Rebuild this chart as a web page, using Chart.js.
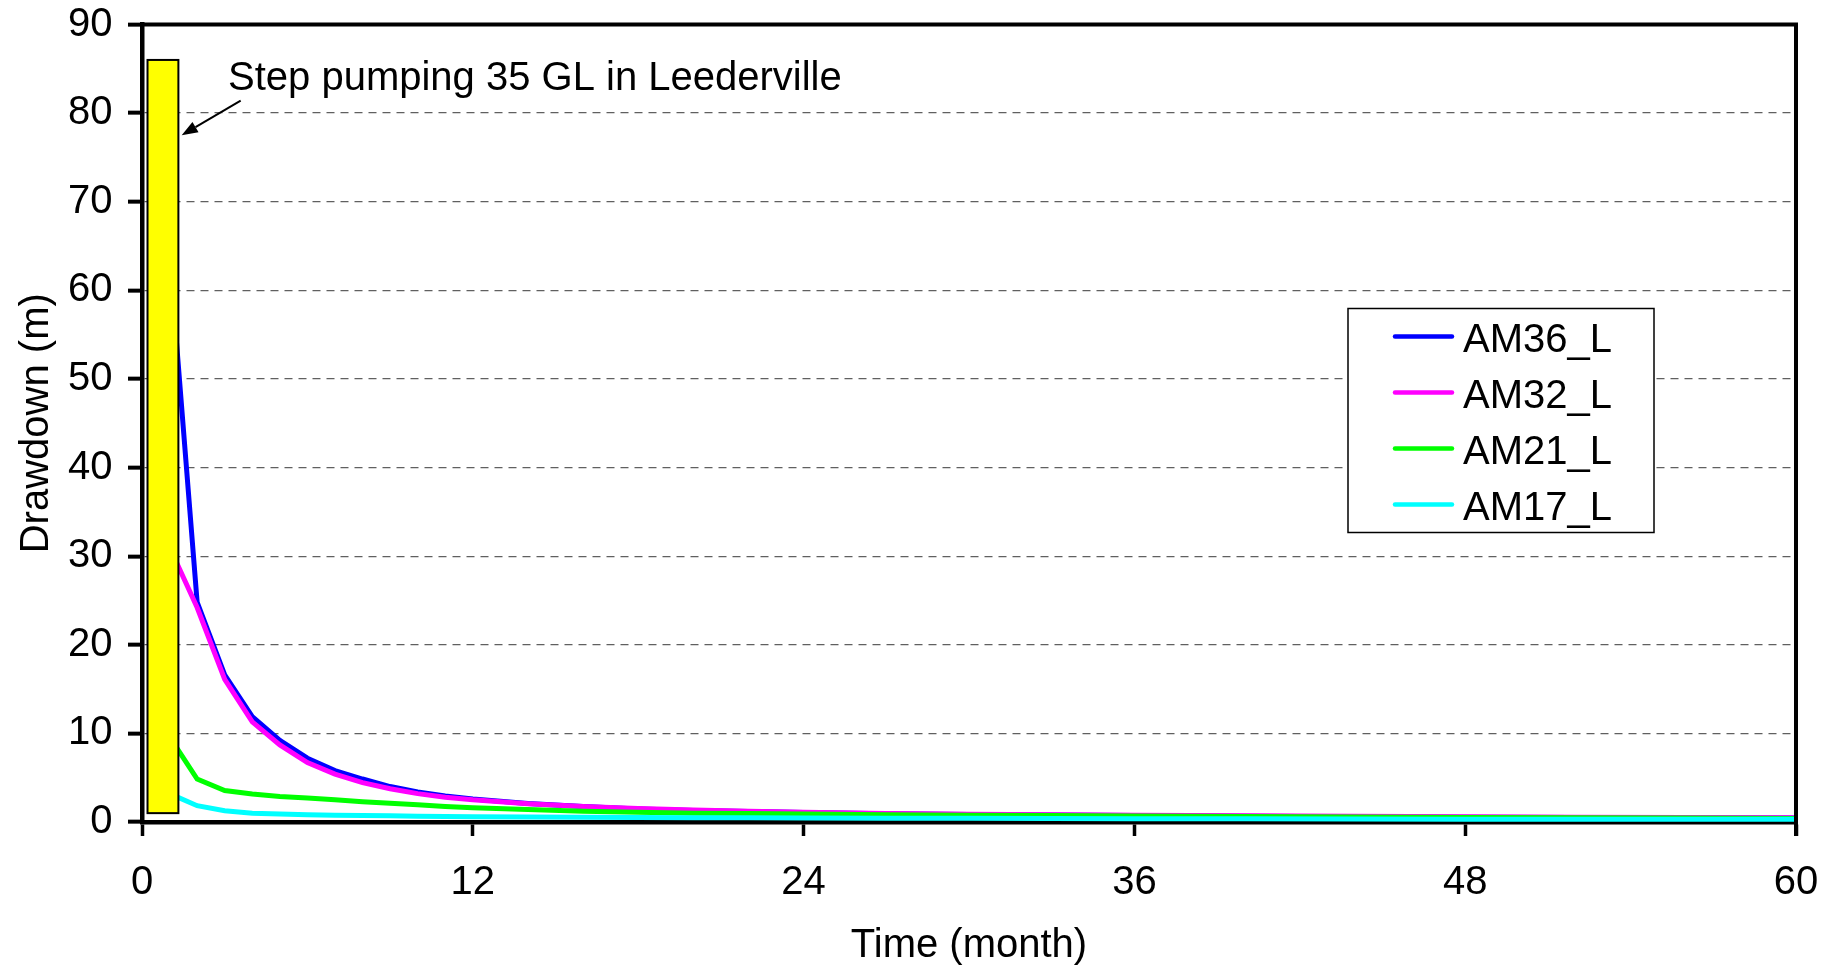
<!DOCTYPE html>
<html>
<head>
<meta charset="utf-8">
<title>Drawdown</title>
<script src="https://cdn.jsdelivr.net/npm/chart.js@4.4.0/dist/chart.umd.min.js"></script>
<style>
  html, body { margin: 0; padding: 0; background: #fff; }
  #wrap { width: 1834px; height: 968px; position: relative; }
</style>
</head>
<body>
<div id="wrap"><canvas id="drawdown"></canvas></div>
<script>
// time after start of pumping (months)
const months = [1, 2, 3, 4, 5, 6, 7, 8, 9, 10, 11, 12, 14, 16, 18, 20, 22, 24, 27, 30, 33, 36, 40, 44, 48, 52, 56, 60];

// drawdown (m) at each observation bore
const am36 = [64, 24.8, 16.6, 11.9, 9.2, 7.2, 5.8, 4.85, 4.0, 3.4, 2.95, 2.6, 2.1, 1.74, 1.48, 1.31, 1.18, 1.06, 0.93, 0.84, 0.78, 0.72, 0.66, 0.6, 0.55, 0.51, 0.47, 0.44];
const am32 = [31, 24.2, 16.1, 11.3, 8.7, 6.7, 5.4, 4.45, 3.75, 3.2, 2.8, 2.5, 2.06, 1.76, 1.52, 1.36, 1.22, 1.1, 0.97, 0.88, 0.82, 0.76, 0.7, 0.64, 0.59, 0.55, 0.51, 0.48];
const am21 = [9.6, 4.85, 3.56, 3.15, 2.88, 2.7, 2.5, 2.28, 2.12, 1.95, 1.75, 1.6, 1.4, 1.22, 1.1, 1.0, 0.95, 0.9, 0.82, 0.76, 0.72, 0.68, 0.62, 0.57, 0.52, 0.48, 0.44, 0.4];
const am17 = [3.2, 1.84, 1.27, 1.0, 0.9, 0.82, 0.77, 0.73, 0.7, 0.66, 0.63, 0.6, 0.57, 0.54, 0.5, 0.48, 0.47, 0.45, 0.43, 0.42, 0.4, 0.38, 0.36, 0.34, 0.32, 0.31, 0.3, 0.3];

const seriesNames = ['AM36_L', 'AM32_L', 'AM21_L', 'AM17_L'];
const timeTicks = [0, 12, 24, 36, 48, 60];
const drawdownTicks = [0, 10, 20, 30, 40, 50, 60, 70, 80, 90];

// pumping period and its label, in axis units
const pumping = { start: 0.2, end: 1.32, low: 1.0, high: 86 };
const pumpingNote = { text: 'Step pumping 35 GL in Leederville', x: 3.12, y: 82.6, arrowFrom: [3.58, 81.4], arrowTo: [1.44, 77.5] };

const FONT = '"Liberation Sans", Arial, sans-serif';
Chart.defaults.font.family = FONT;
Chart.defaults.color = '#000';

const toPoints = vals => vals.map((v, i) => ({ x: months[i], y: v }));

const pumpingBox = {
  id: 'pumpingBox',
  afterDatasetsDraw(chart) {
    const { ctx, scales: { x, y }, chartArea } = chart;
    const l = x.getPixelForValue(pumping.start), r = x.getPixelForValue(pumping.end);
    const t = y.getPixelForValue(pumping.high), b = y.getPixelForValue(pumping.low);
    ctx.save();
    ctx.fillStyle = '#ffff00';
    ctx.fillRect(l, t, r - l, b - t);
    ctx.strokeStyle = '#000';
    ctx.lineWidth = 2;
    ctx.strokeRect(l, t, r - l, b - t);

    // arrow to the bar
    const x0 = x.getPixelForValue(pumpingNote.arrowFrom[0]), y0 = y.getPixelForValue(pumpingNote.arrowFrom[1]);
    const x1 = x.getPixelForValue(pumpingNote.arrowTo[0]), y1 = y.getPixelForValue(pumpingNote.arrowTo[1]);
    const ang = Math.atan2(y1 - y0, x1 - x0);
    const head = 16, half = 6;
    const bx = x1 - head * Math.cos(ang), by = y1 - head * Math.sin(ang);
    ctx.lineWidth = 2;
    ctx.beginPath();
    ctx.moveTo(x0, y0);
    ctx.lineTo(bx, by);
    ctx.stroke();
    ctx.fillStyle = '#000';
    ctx.beginPath();
    ctx.moveTo(x1, y1);
    ctx.lineTo(bx + half * Math.sin(ang), by - half * Math.cos(ang));
    ctx.lineTo(bx - half * Math.sin(ang), by + half * Math.cos(ang));
    ctx.closePath();
    ctx.fill();

    ctx.font = '40px ' + FONT;
    ctx.textBaseline = 'alphabetic';
    ctx.fillText(pumpingNote.text, x.getPixelForValue(pumpingNote.x), y.getPixelForValue(pumpingNote.y));

    // frame on top and right of the plot
    ctx.lineWidth = 4;
    ctx.beginPath();
    ctx.moveTo(chartArea.left, chartArea.top);
    ctx.lineTo(chartArea.right, chartArea.top);
    ctx.lineTo(chartArea.right, chartArea.bottom + 14);
    ctx.stroke();
    ctx.restore();
  }
};

const legendBox = {
  id: 'legendBox',
  afterDraw(chart) {
    const { ctx, chartArea } = chart;
    const w = 306, h = 224;
    const left = chartArea.right - 448, top = chartArea.top + 284;
    ctx.save();
    ctx.fillStyle = '#fff';
    ctx.fillRect(left, top, w, h);
    ctx.strokeStyle = '#000';
    ctx.lineWidth = 1.5;
    ctx.strokeRect(left, top, w, h);
    ctx.font = '40px ' + FONT;
    ctx.textBaseline = 'alphabetic';
    chart.data.datasets.forEach((ds, i) => {
      const cy = top + 28 + i * 56;
      ctx.strokeStyle = ds.borderColor;
      ctx.lineWidth = 4.5;
      ctx.lineCap = 'round';
      ctx.beginPath();
      ctx.moveTo(left + 47, cy);
      ctx.lineTo(left + 104, cy);
      ctx.stroke();
      ctx.fillStyle = '#000';
      ctx.fillText(ds.label, left + 115, cy + 15);
    });
    ctx.restore();
  }
};

const colors = ['#0000ff', '#ff00ff', '#00ff00', '#00ffff'];
const series = [am36, am32, am21, am17];

new Chart(document.getElementById('drawdown'), {
  type: 'line',
  data: {
    datasets: series.map((vals, i) => ({
      label: seriesNames[i],
      data: toPoints(vals),
      borderColor: colors[i],
      backgroundColor: colors[i],
      borderWidth: 5,
      pointRadius: 0,
      tension: 0,
      order: series.length - i
    }))
  },
  options: {
    responsive: true,
    maintainAspectRatio: false,
    animation: false,
    layout: { padding: { top: 24.5, right: 38, left: 0, bottom: 0 } },
    plugins: {
      legend: { display: false },
      tooltip: { enabled: false }
    },
    scales: {
      x: {
        type: 'linear',
        min: 0,
        max: 60,
        afterBuildTicks: s => { s.ticks = timeTicks.map(v => ({ value: v })); },
        afterFit: s => { s.height = 146; s.paddingLeft = 0; s.paddingRight = 0; },
        ticks: { font: { size: 40, lineHeight: 1 }, padding: 27, maxRotation: 0 },
        grid: { drawOnChartArea: false, tickLength: 14, tickWidth: 3.5, tickColor: '#000' },
        border: { color: '#000', width: 4.5 },
        title: { display: true, text: 'Time (month)', font: { size: 40, lineHeight: 1.1 }, padding: { top: 0, bottom: 0 } }
      },
      y: {
        min: 0,
        max: 90,
        afterBuildTicks: s => { s.ticks = drawdownTicks.map(v => ({ value: v })); },
        afterFit: s => { s.width = 142; s.paddingTop = 0; s.paddingBottom = 0; },
        ticks: { font: { size: 40, lineHeight: 1 }, padding: 15.5 },
        grid: {
          color: c => (c.tick && (c.tick.value === 0 || c.tick.value === 90)) ? 'rgba(0,0,0,0)' : '#606060',
          lineWidth: 1.3,
          tickLength: 14,
          tickWidth: 4,
          tickColor: '#000'
        },
        border: { color: '#000', width: 4.5, dash: [8, 6] },
        title: { display: true, text: 'Drawdown (m)', font: { size: 40 }, padding: { top: 12.5, bottom: 0 } }
      }
    }
  },
  plugins: [pumpingBox, legendBox]
});
</script>
</body>
</html>
